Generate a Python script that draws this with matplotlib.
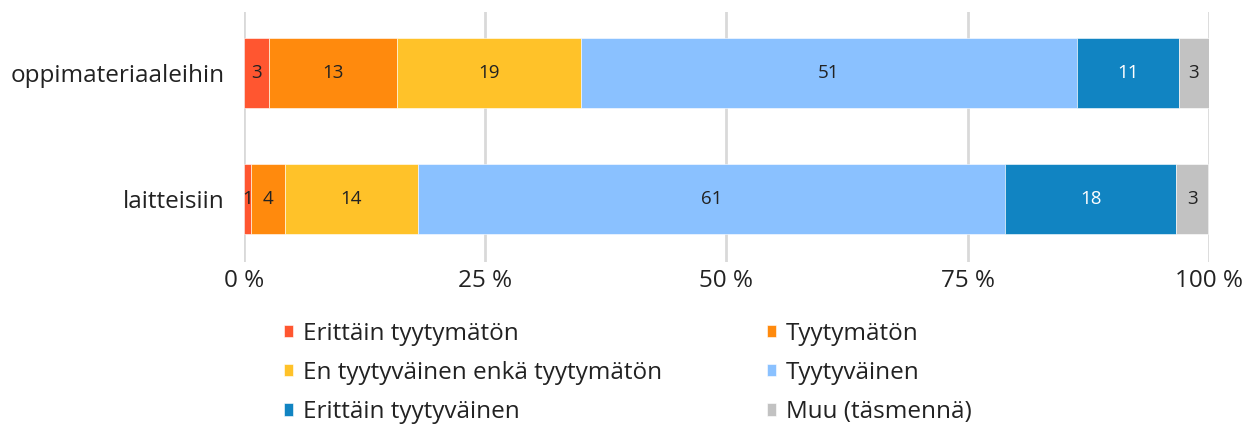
import numpy as np
import matplotlib.pyplot as plt

categories = ["oppimateriaaleihin", "laitteisiin"]
series = ["Erittäin tyytymätön", "Tyytymätön", "En tyytyväinen enkä tyytymätön",
          "Tyytyväinen", "Erittäin tyytyväinen", "Muu (täsmennä)"]
# shares in percent, per series: [oppimateriaaleihin, laitteisiin]
values = [
    [2.6, 0.7],
    [13.3, 3.5],
    [19.0, 13.8],
    [51.4, 60.9],
    [10.6, 17.7],
    [3.1, 3.3],
]
labels = [
    [3, 1],
    [13, 4],
    [19, 14],
    [51, 61],
    [11, 18],
    [3, 3],
]
colors = ["#FF5630", "#FF8A0D", "#FFC229", "#8AC1FF", "#1184C2", "#C2C2C2"]
text_colors = ["#222222", "#222222", "#222222", "#222222", "white", "#222222"]
xticks = [0, 25, 50, 75, 100]
xticklabels = ["0 %", "25 %", "50 %", "75 %", "100 %"]

plt.rcParams["font.family"] = ["Open Sans", "DejaVu Sans"]

fig = plt.figure(figsize=(12.55, 4.25), dpi=100)
ax = fig.add_axes([0.1944, 0.3835, 0.9633 - 0.1944, 0.9718 - 0.3835])

y = np.arange(len(categories))
left = np.zeros(len(categories))
handles = []
for i, name in enumerate(series):
    vals = np.array(values[i])
    bars = ax.barh(y, vals, left=left, height=0.556, color=colors[i],
                   edgecolor="white", linewidth=0.4, label=name, zorder=3)
    handles.append(bars)
    for j, b in enumerate(bars):
        ax.text(left[j] + vals[j] / 2, y[j], str(labels[i][j]), ha="center", va="center",
                fontsize=13.5, color=text_colors[i], zorder=4)
    left = left + vals

ax.set_xlim(0, 100)
ax.set_ylim(1.5, -0.484)
ax.set_yticks(y)
ax.set_yticklabels(categories, fontsize=17.5, color="#222222")
ax.set_xticks(xticks)
ax.set_xticklabels(xticklabels, fontsize=17.5, color="#222222")
ax.tick_params(axis="x", length=0, pad=5)
ax.tick_params(axis="y", length=0, pad=14)
for sp in ax.spines.values():
    sp.set_visible(False)
ax.grid(axis="x", color="#D9D9D9", linewidth=2, zorder=0)
ax.grid(axis="y", visible=False)

order = [0, 2, 4, 1, 3, 5]
fig.legend([handles[k] for k in order], [series[k] for k in order], ncol=2,
           loc="upper left", bbox_to_anchor=(0.2086, 0.295), frameon=False,
           fontsize=17.5, handlelength=0.4, handleheight=0.4, handletextpad=0.4,
           columnspacing=4.3, labelspacing=0.63, labelcolor="#222222")

fig.savefig("out.png", dpi=100)
